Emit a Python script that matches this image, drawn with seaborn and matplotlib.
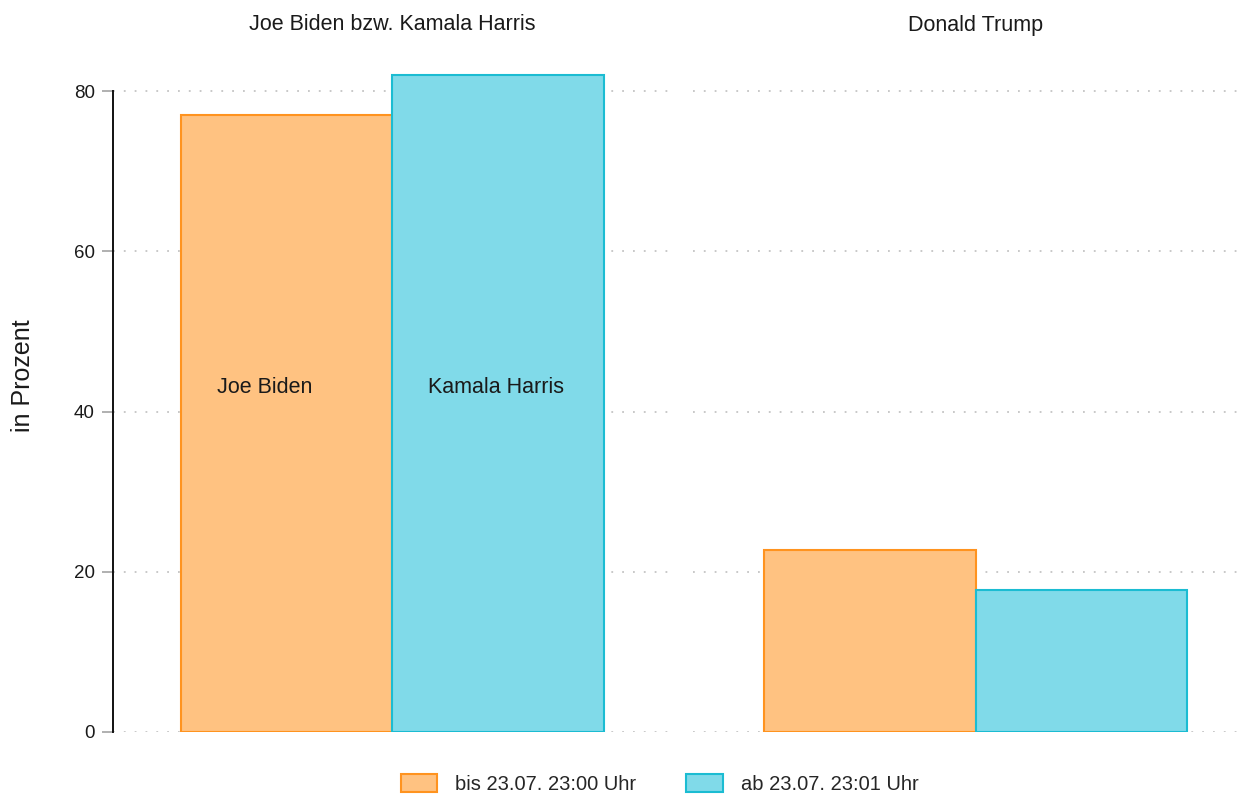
import matplotlib
matplotlib.use("Agg")
import matplotlib.pyplot as plt
import matplotlib.ticker as mticker
from matplotlib.patches import Patch
import seaborn as sns
import pandas as pd

# Poll data: share in percent before / after the switch of the Democratic candidate
facets = ["Joe Biden bzw. Kamala Harris", "Donald Trump"]
periods = ["bis 23.07. 23:00 Uhr", "ab 23.07. 23:01 Uhr"]
dem_values = [77.0, 82.0]
trump_values = [22.7, 17.7]
bar_names = {"Joe Biden bzw. Kamala Harris": ["Joe Biden", "Kamala Harris"]}
y_ticks = [0, 20, 40, 60, 80]

fill_colors = ["#FFC281", "#80DAE9"]
edge_colors = ["#FF931F", "#1BBCD2"]

df = pd.DataFrame({
    "facet": [facets[0]] * 2 + [facets[1]] * 2,
    "period": periods * 2,
    "value": dem_values + trump_values,
})

sns.set_style("white")
plt.rcParams["font.family"] = ["Liberation Sans", "DejaVu Sans"]

W, H = 1244, 794
fig = plt.figure(figsize=(W / 100, H / 100), dpi=100)

y0_px, y80_px = 732, 91
px_per_unit = (y0_px - y80_px) / 80.0
ax_top_px = 60
ylim_top = (y0_px - ax_top_px) / px_per_unit

# panel extents in pixels
panels = [(113, 672), (693, 1240)]
bar_centers_px = [392.5, 975.5]
unit_px = 559.0
bar_width = 423.0 / unit_px

axes = []
for i, (facet, (xl, xr)) in enumerate(zip(facets, panels)):
    ax = fig.add_axes([xl / W, (H - y0_px) / H, (xr - xl) / W, (y0_px - ax_top_px) / H])
    sub = df[df["facet"] == facet]
    sns.barplot(data=sub, x="facet", y="value", hue="period",
                hue_order=periods, palette=fill_colors, saturation=1,
                width=bar_width, linewidth=1.5, ax=ax, legend=False)
    for cont, ec in zip(ax.containers, edge_colors):
        for p in cont:
            p.set_edgecolor(ec)
            p.set_linewidth(1.5)
    # keep a common horizontal scale across both panels
    span = (xr - xl) / unit_px
    left = -(bar_centers_px[i] - xl) / unit_px
    ax.set_xlim(left, left + span)
    ax.set_ylim(0, ylim_top)
    ax.set_yticks(y_ticks)
    ax.yaxis.set_major_formatter(mticker.FuncFormatter(lambda v, _: f"{v:.0f}"))
    ax.set_xticks([])
    ax.set_xlabel("")
    ax.set_ylabel("")
    ax.grid(axis="y", color="#c4c4c4", linestyle=(0, (1, 5)), linewidth=1.3)
    ax.set_axisbelow(True)
    for s in ["top", "right", "bottom"]:
        ax.spines[s].set_visible(False)
    # facet heading centred over the bar pair
    fig.text(bar_centers_px[i] / W, 1 - 25 / H, facet, ha="center", va="center",
             fontsize=15.5, color="#1a1a1a")
    axes.append(ax)

ax0, ax1 = axes
ax0.spines["left"].set_bounds(0, 80)
ax0.spines["left"].set_linewidth(1.4)
ax0.spines["left"].set_color("#111111")
ax0.tick_params(axis="y", length=8, width=1.3, color="#aaaaaa", pad=5,
                labelsize=13.5, labelcolor="#1a1a1a", left=True)
ax0.set_ylabel("in Prozent", fontsize=18, color="#1a1a1a")
ax0.yaxis.set_label_coords((35 - 113) / 559, (732 - 376) / (732 - 60))

ax1.spines["left"].set_visible(False)
ax1.tick_params(axis="y", left=False, labelleft=False)

# candidate names inside the first panel's bars
for cont, name in zip(ax0.containers, bar_names[facets[0]]):
    p = cont[0]
    ax0.annotate(name, xy=(p.get_x(), 43), xytext=(36, 0), textcoords="offset pixels",
                 ha="left", va="center", fontsize=15.5, color="#1a1a1a")

handles = [Patch(facecolor=fc, edgecolor=ec, linewidth=1.5) for fc, ec in zip(fill_colors, edge_colors)]
fig.legend(handles, periods, loc="upper center", bbox_to_anchor=(659.5 / W, (H - 770) / H),
           ncol=2, frameon=False, fontsize=14.5, handlelength=1.8, handleheight=1.0,
           handletextpad=0.9, columnspacing=2.5, borderaxespad=0, borderpad=0.2)

fig.savefig("out.png", dpi=100)
